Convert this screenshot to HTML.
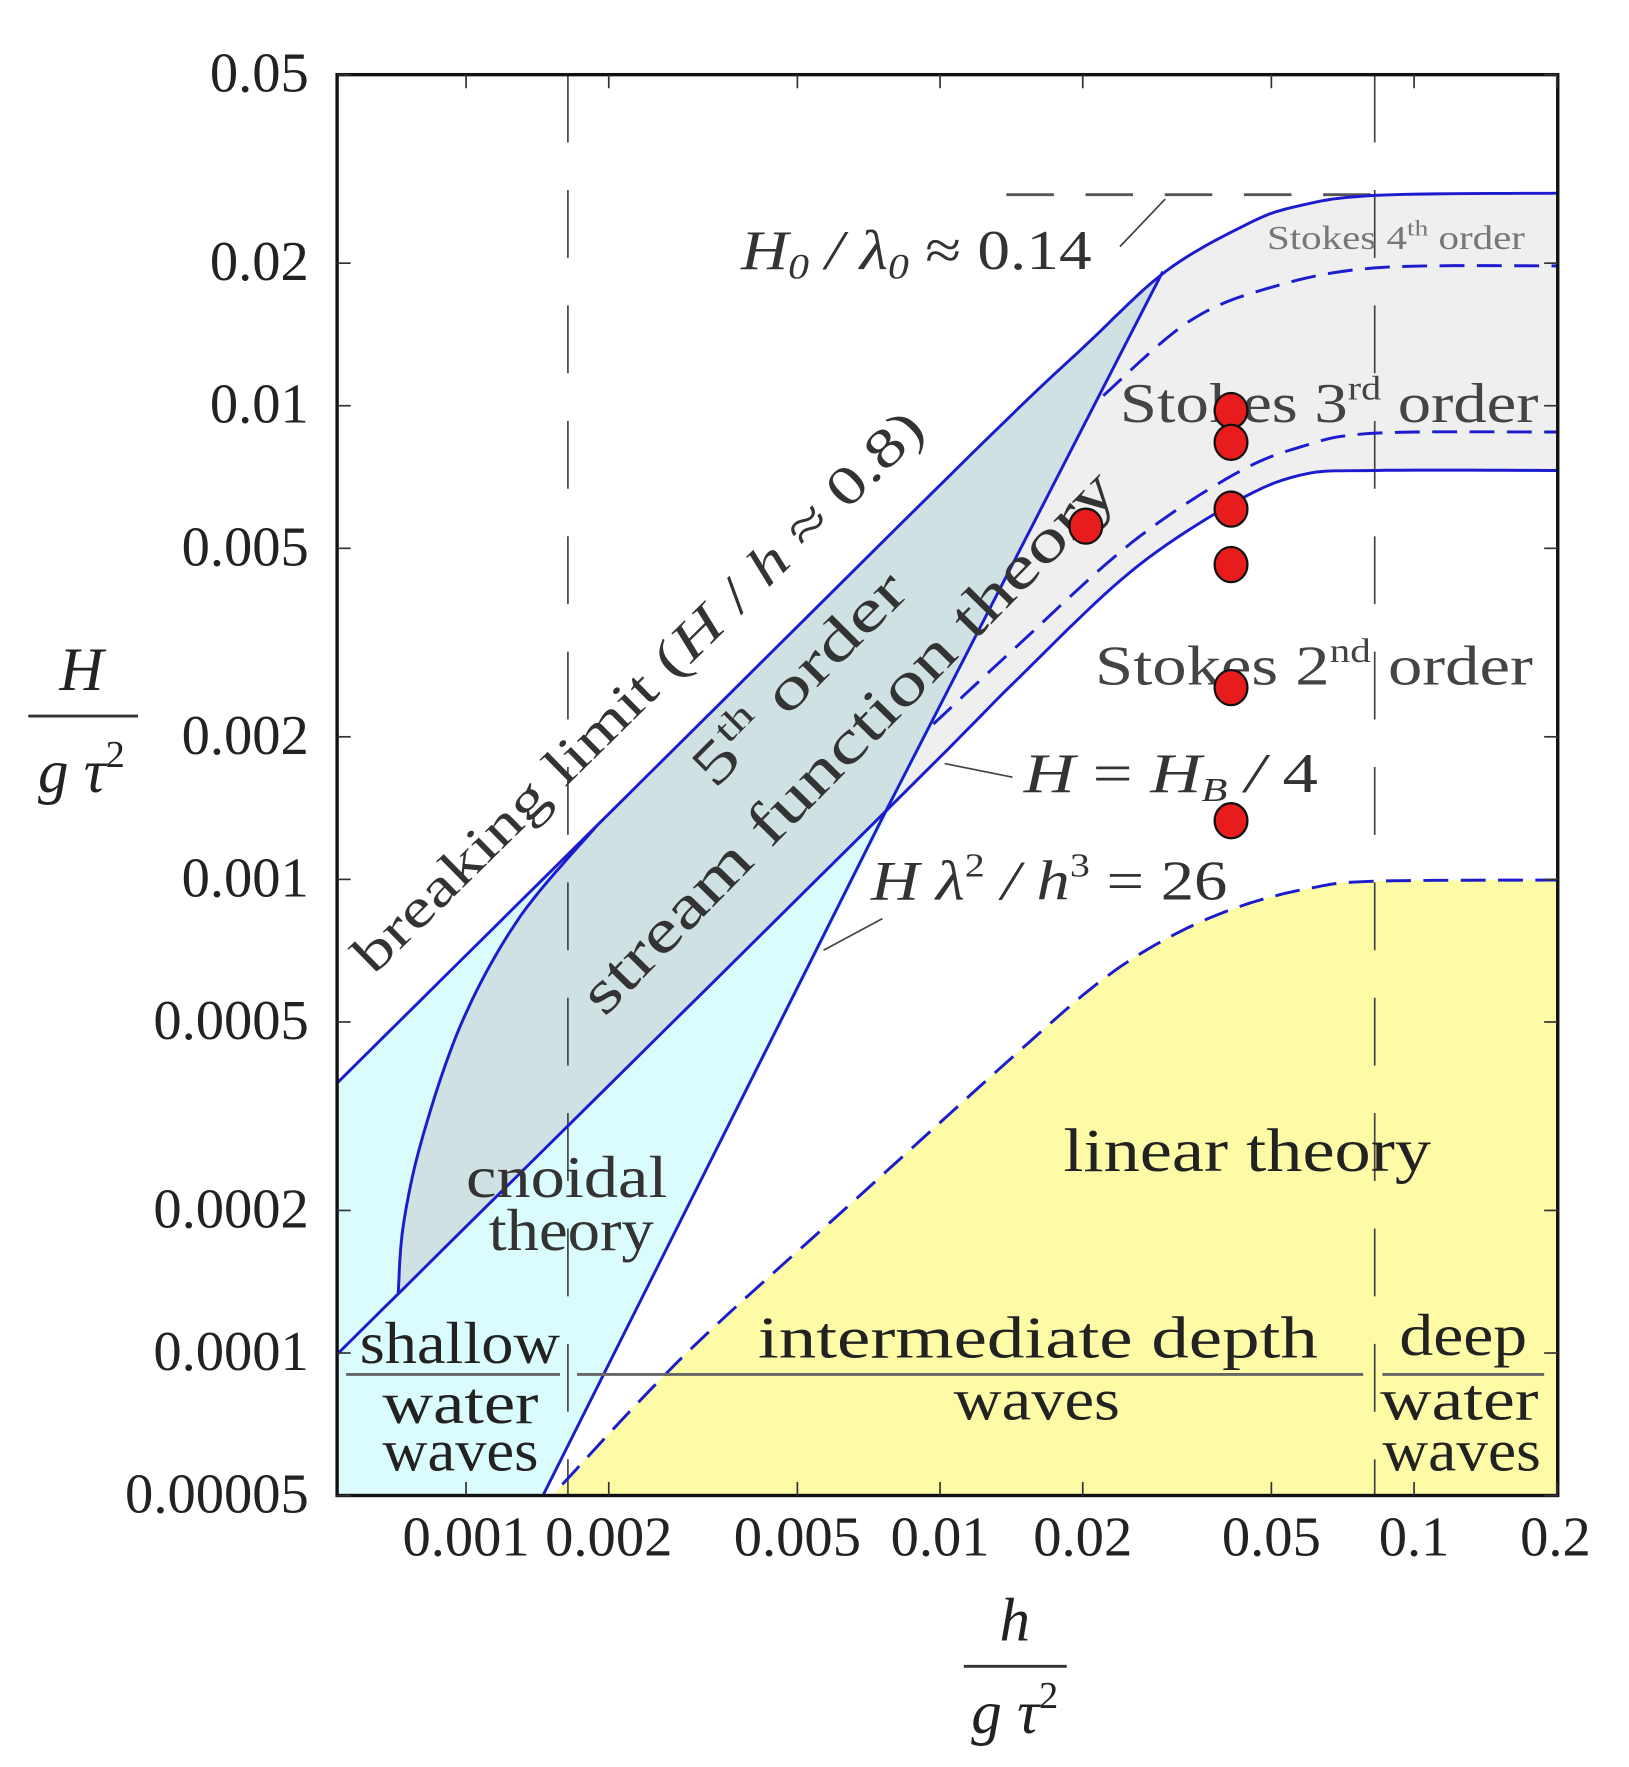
<!DOCTYPE html>
<html><head><meta charset="utf-8"><title>Wave theory validity chart</title>
<style>
html,body{margin:0;padding:0;background:#fff;}
svg{display:block;}
text{font-family:"Liberation Serif",serif;}
</style></head>
<body>
<svg id="chart" width="1629" height="1767" viewBox="0 0 1440 1562" preserveAspectRatio="none" xmlns="http://www.w3.org/2000/svg">
<defs><clipPath id="plotclip"><rect x="298" y="66" width="1079" height="1256"/></clipPath></defs>
<g id="regions" clip-path="url(#plotclip)"></g>
<g id="lines" clip-path="url(#plotclip)"></g>
<g id="axes"></g>
<g id="labels" fill="#222">
  <text x="655" y="238" font-size="50" font-style="italic" fill="#333" textLength="310" lengthAdjust="spacingAndGlyphs">H<tspan font-size="32" dy="8">0</tspan><tspan dy="-8"> / λ</tspan><tspan font-size="32" dy="8">0</tspan><tspan dy="-8" font-style="normal"> ≈ 0.14</tspan></text>
  <line x1="990" y1="218" x2="1030" y2="176" stroke="#444" stroke-width="1.5"/>
  <text x="1120" y="220" font-size="30" fill="#777" textLength="228" lengthAdjust="spacingAndGlyphs">Stokes 4<tspan font-size="20" dy="-12">th</tspan><tspan dy="12"> order</tspan></text>
  <text x="990" y="373" font-size="50" fill="#444" textLength="370" lengthAdjust="spacingAndGlyphs">Stokes 3<tspan font-size="30" dy="-20">rd</tspan><tspan dy="20"> order</tspan></text>
  <text x="968" y="605" font-size="50" fill="#444" textLength="387" lengthAdjust="spacingAndGlyphs">Stokes 2<tspan font-size="30" dy="-20">nd</tspan><tspan dy="20"> order</tspan></text>
  <text x="905" y="700" font-size="50" fill="#333" font-style="italic" textLength="260" lengthAdjust="spacingAndGlyphs">H <tspan font-style="normal">=</tspan> H<tspan font-size="30" dy="8">B</tspan><tspan dy="-8"> / </tspan><tspan font-style="normal">4</tspan></text>
  <line x1="835" y1="675" x2="895" y2="687" stroke="#444" stroke-width="1.5"/>
  <text x="770" y="795" font-size="50" fill="#333" font-style="italic" textLength="315" lengthAdjust="spacingAndGlyphs">H λ<tspan font-size="30" dy="-20" font-style="normal">2</tspan><tspan dy="20"> / h</tspan><tspan font-size="30" dy="-20" font-style="normal">3</tspan><tspan dy="20" font-style="normal"> = 26</tspan></text>
  <line x1="728" y1="840" x2="780" y2="812" stroke="#444" stroke-width="1.5"/>
  <text transform="translate(575,622) rotate(-44.5)" x="-343" font-size="48" fill="#333" textLength="686" lengthAdjust="spacingAndGlyphs">breaking limit (<tspan font-style="italic">H</tspan> / <tspan font-style="italic">h</tspan> ≈ 0.8)</text>
  <text transform="translate(718,612) rotate(-45)" x="-122" font-size="52" fill="#333" textLength="245" lengthAdjust="spacingAndGlyphs">5<tspan font-size="32" dy="-20">th</tspan><tspan dy="20"> order</tspan></text>
  <text transform="translate(762,668) rotate(-45.5)" x="-325" font-size="54" fill="#333" textLength="650" lengthAdjust="spacingAndGlyphs">stream function theory</text>
  <text x="412" y="1058" font-size="52" fill="#333" textLength="178" lengthAdjust="spacingAndGlyphs">cnoidal</text>
  <text x="432" y="1105" font-size="52" fill="#333" textLength="146" lengthAdjust="spacingAndGlyphs">theory</text>
  <text x="940" y="1035" font-size="54" fill="#222" textLength="325" lengthAdjust="spacingAndGlyphs">linear theory</text>
  <text x="318" y="1205" font-size="52" textLength="177" lengthAdjust="spacingAndGlyphs">shallow</text>
  <line x1="306" y1="1215" x2="495" y2="1215" stroke="#666" stroke-width="2.5"/>
  <text x="338" y="1258" font-size="52" textLength="138" lengthAdjust="spacingAndGlyphs">water</text>
  <text x="338" y="1300" font-size="52" textLength="138" lengthAdjust="spacingAndGlyphs">waves</text>
  <text x="670" y="1200" font-size="52" textLength="495" lengthAdjust="spacingAndGlyphs">intermediate depth</text>
  <line x1="510" y1="1215" x2="1205" y2="1215" stroke="#666" stroke-width="2.5"/>
  <text x="843" y="1255" font-size="52" textLength="147" lengthAdjust="spacingAndGlyphs">waves</text>
  <text x="1237" y="1198" font-size="52" textLength="113" lengthAdjust="spacingAndGlyphs">deep</text>
  <line x1="1222" y1="1215" x2="1365" y2="1215" stroke="#666" stroke-width="2.5"/>
  <text x="1220" y="1255" font-size="52" textLength="140" lengthAdjust="spacingAndGlyphs">water</text>
  <text x="1222" y="1300" font-size="52" textLength="140" lengthAdjust="spacingAndGlyphs">waves</text>
  <g fill="#222">
    <text x="72" y="610" text-anchor="middle" font-size="54" font-style="italic">H</text>
    <line x1="25" y1="633" x2="122" y2="633" stroke="#333" stroke-width="2.5"/>
    <text x="72" y="700" text-anchor="middle" font-size="54" font-style="italic">g τ<tspan font-size="34" dy="-22" font-style="normal">2</tspan></text>
  </g>
  <g fill="#222">
    <text x="897" y="1450" text-anchor="middle" font-size="54" font-style="italic">h</text>
    <line x1="852" y1="1473" x2="943" y2="1473" stroke="#333" stroke-width="2.5"/>
    <text x="897" y="1532" text-anchor="middle" font-size="54" font-style="italic">g τ<tspan font-size="34" dy="-22" font-style="normal">2</tspan></text>
  </g>
</g>
<g id="points"></g>
</svg>
<script>
// ---- data (h/(g tau^2), H/(g tau^2)) ----
const breakH=[5.35e-4,1.89e-3,0.01173,0.0203,0.0299,0.0438,0.0560,0.0825,0.201];
const breakV=[3.72e-4,1.30e-3,7.96e-3,0.01343,0.0192,0.0240,0.0263,0.0278,0.0281];
const stokes4H=[0.0221,0.0333,0.0490,0.0825,0.201];
const stokes4V=[0.0105,0.0150,0.01768,0.01954,0.01974];
const stokes3H=[0.00968,0.01462,0.0253,0.0415,0.0577,0.0825,0.201];
const stokes3V=[0.002128,0.003125,0.00513,0.00714,0.00819,0.00875,0.0088];
const hb4H=[5.35e-4,0.00768,0.0146,0.0253,0.0415,0.0577,0.0825,0.201];
const hb4V=[9.95e-5,1.393e-3,0.002654,0.00447,0.00622,0.00714,0.0073,0.0073];
const ursellH=[1.452e-3,0.00768,0.0295];
const ursellV=[5e-5,1.393e-3,0.0192];
const lensH=[1.89e-3,1.302e-3,9.89e-4,8.16e-4,7.39e-4,7.19e-4];
const lensV=[1.30e-3,8.36e-4,5.1e-4,2.94e-4,1.893e-4,1.339e-4];
const linearH=[1.596e-3,2.95e-3,0.00677,0.01552,0.02268,0.03154,0.0438,0.0609,0.0825,0.201];
const linearV=[5.28e-5,1.01e-4,2.15e-4,4.56e-4,6.28e-4,7.69e-4,8.83e-4,9.6e-4,9.91e-4,9.97e-4];
const steepH=[0.0138,0.0825];
const steepV=[0.0279,0.0279];
const depthLimits=[0.00164,0.0826];
const pointH=[0.0203,0.0411,0.0411,0.0411,0.0411,0.0411,0.0411];
const pointV=[5.57e-3,9.77e-3,8.37e-3,6.05e-3,4.62e-3,2.54e-3,1.33e-3];
const xTicks=[0.001,0.002,0.005,0.01,0.02,0.05,0.1,0.2];
const xTickLabels=["0.001","0.002","0.005","0.01","0.02","0.05","0.1","0.2"];
const yTicks=[0.05,0.02,0.01,0.005,0.002,0.001,0.0005,0.0002,0.0001,0.00005];
const yTickLabels=["0.05","0.02","0.01","0.005","0.002","0.001","0.0005","0.0002","0.0001","0.00005"];
const xMin=5.35e-4,xMax=0.201,yMin=5e-5,yMax=0.05;

const NS="http://www.w3.org/2000/svg";
function X(h){return 412+419*Math.log10(h/0.001);}
function Y(v){return 66+418.7*Math.log10(0.05/v);}
function pts(hs,vs){return hs.map((h,i)=>[X(h),Y(vs[i])]);}
function smooth(p){
  if(p.length<3)return p.slice();
  const out=[];
  for(let i=0;i<p.length-1;i++){
    const p0=p[Math.max(0,i-1)],p1=p[i],p2=p[i+1],p3=p[Math.min(p.length-1,i+2)];
    for(let k=0;k<12;k++){
      const t=k/12,t2=t*t,t3=t2*t;
      const f=(a,b,c,d)=>0.5*((2*b)+(-a+c)*t+(2*a-5*b+4*c-d)*t2+(-a+3*b-3*c+d)*t3);
      out.push([f(p0[0],p1[0],p2[0],p3[0]),f(p0[1],p1[1],p2[1],p3[1])]);
    }
  }
  out.push(p[p.length-1]);
  return out;
}
function toD(p,close){return p.map((q,i)=>(i?'L':'M')+q[0].toFixed(1)+' '+q[1].toFixed(1)).join(' ')+(close?' Z':'');}
function mk(tag,parent){const e=document.createElementNS(NS,tag);document.getElementById(parent).appendChild(e);return e;}

const brk=smooth(pts(breakH,breakV));
const hb4=smooth(pts(hb4H,hb4V));
const urs=pts(ursellH,ursellV);
const lens=smooth(pts(lensH,lensV));
const lin=smooth(pts(linearH,linearV));
const s4=smooth(pts(stokes4H,stokes4V));
const s3=smooth(pts(stokes3H,stokes3V));

let e=mk('path','regions');


e.setAttribute('d',toD(lin.concat([[X(xMax)+5,Y(linearV[linearV.length-1])],[X(xMax)+5,Y(yMin)+5],[X(linearH[0])-12,Y(yMin)+5]]),true));
e.setAttribute('fill','#fdfba6');
e=mk('path','regions');


e.setAttribute('d',toD(brk.concat([[X(xMax)+5,Y(breakV[breakV.length-1])],[X(xMax)+5,Y(hb4V[hb4V.length-1])]]).concat(hb4.slice().reverse()),true));
e.setAttribute('fill','#efefef');
const brkLeft=brk.filter(q=>q[0]<=X(ursellH[2])+0.5);
e=mk('path','regions');


e.setAttribute('d',toD(brkLeft.concat([[X(ursellH[2]),Y(ursellV[2])],[X(ursellH[0]),Y(ursellV[0])],[X(xMin)-5,Y(yMin)+5],[X(xMin)-5,Y(breakV[0])]]),true));
e.setAttribute('fill','#dbfcfc');
const brkMid=brk.filter(q=>q[0]>=X(lensH[0])&&q[0]<=X(ursellH[2])).reverse();
e=mk('path','regions');


e.setAttribute('d',toD(lens.concat([[X(ursellH[1]),Y(ursellV[1])],[X(ursellH[2]),Y(ursellV[2])]]).concat(brkMid),true));
e.setAttribute('fill','#d0e1e4');

depthLimits.forEach(function(h){
  const l=mk('line','lines');
  
  
  l.setAttribute('x1',X(h));l.setAttribute('x2',X(h));
  l.setAttribute('y1',Y(yMax));l.setAttribute('y2',Y(yMin));
  l.setAttribute('stroke','#444');l.setAttribute('stroke-width','1.5');
  l.setAttribute('stroke-dasharray','60 42');
});
e=mk('path','lines');


e.setAttribute('d',toD(pts(steepH,steepV)));
e.setAttribute('stroke','#555');e.setAttribute('stroke-width','2.5');e.setAttribute('fill','none');
e.setAttribute('stroke-dasharray','42 28');

function curve(p,dash){
  const c=mk('path','lines');
  c.setAttribute('d',toD(p));
  c.setAttribute('fill','none');
  c.setAttribute('stroke','#1c1ccf');
  c.setAttribute('stroke-width','2.6');
  if(dash)c.setAttribute('stroke-dasharray','22 11');
  return c;
}
let c;
c=curve(brk,false);


c=curve(hb4,false);


c=curve(urs,false);


c=curve(lens,false);


c=curve(lin,true);


c=curve(s4,true);


c=curve(s3,true);



e=mk('rect','axes');


e.setAttribute('x',298);e.setAttribute('y',66);e.setAttribute('width',1079);e.setAttribute('height',1256);
e.setAttribute('fill','none');e.setAttribute('stroke','#111');e.setAttribute('stroke-width','3');
xTicks.forEach(function(v,i){
  const x=X(v);
  if(x>298&&x<1377){
    [[1322,1310],[66,78]].forEach(function(yy){
      const t=mk('line','axes');
      
      
      t.setAttribute('x1',x);t.setAttribute('x2',x);t.setAttribute('y1',yy[0]);t.setAttribute('y2',yy[1]);
      t.setAttribute('stroke','#333');t.setAttribute('stroke-width','1.5');
    });
  }
  const tl=mk('text','axes');
  
  
  tl.setAttribute('x',Math.min(x,1375));tl.setAttribute('y',1375);
  tl.setAttribute('text-anchor','middle');tl.setAttribute('font-size','50');tl.setAttribute('fill','#222');
  tl.textContent=xTickLabels[i];
});
yTicks.forEach(function(v,i){
  const y=Y(v);
  [[298,310],[1377,1365]].forEach(function(xx){
    const t=mk('line','axes');
    
    
    t.setAttribute('x1',xx[0]);t.setAttribute('x2',xx[1]);t.setAttribute('y1',y);t.setAttribute('y2',y);
    t.setAttribute('stroke','#333');t.setAttribute('stroke-width','1.5');
  });
  const tl=mk('text','axes');
  
  
  tl.setAttribute('x',273);tl.setAttribute('y',y+15);
  tl.setAttribute('text-anchor','end');tl.setAttribute('font-size','50');tl.setAttribute('fill','#222');
  tl.textContent=yTickLabels[i];
});
pointH.forEach(function(h,i){
  const p=mk('ellipse','points');
  
  
  p.setAttribute('cx',X(h));p.setAttribute('cy',Y(pointV[i]));
  p.setAttribute('rx',14.5);p.setAttribute('ry',15.5);
  p.setAttribute('fill','#e81c1c');p.setAttribute('stroke','#111');p.setAttribute('stroke-width','2');
});
</script>
</body></html>
